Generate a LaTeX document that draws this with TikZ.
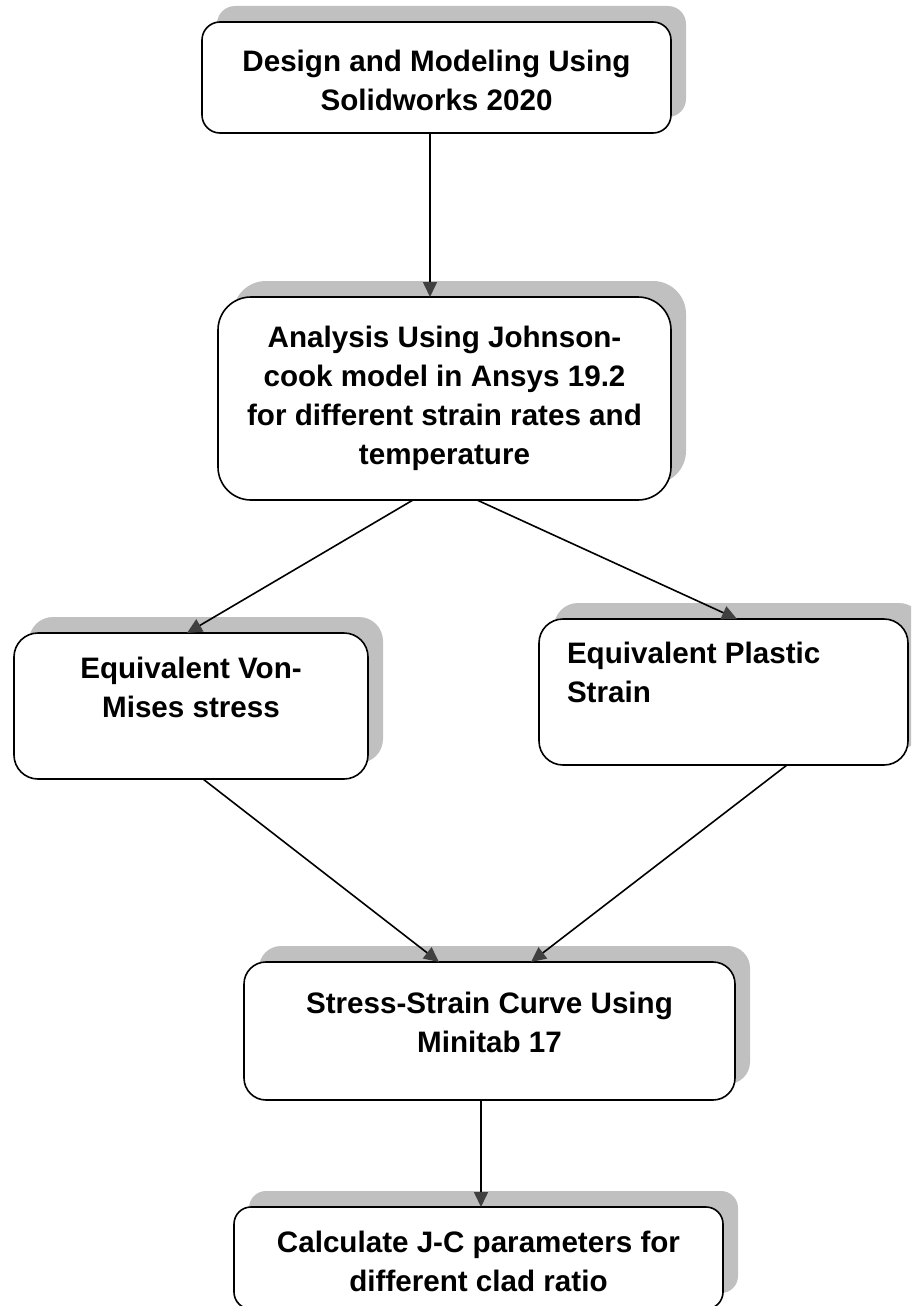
\documentclass[tikz,border=0pt]{standalone}
\usepackage{fontspec}
\setmainfont{Liberation Sans}
\usetikzlibrary{shadows,arrows.meta,calc}
\definecolor{shadowgray}{HTML}{C0C0C0}
\definecolor{tipgray}{HTML}{404040}
\newcommand{\boxtext}[4]{\parbox[c][#2pt][t]{#1pt}{\centering\fontsize{29.6}{39}\selectfont\bfseries\vspace*{#3pt}\strut #4}}
\newcommand{\boxtextleft}[5]{\parbox[c][#2pt][t]{#1pt}{\raggedright\leftskip=#4pt\fontsize{29.6}{39}\selectfont\bfseries\vspace*{#3pt}\strut #5}}
\begin{document}
\begin{tikzpicture}[x=1pt,y=-1pt,
  box/.style={draw=black, line width=1.6pt, fill=white, inner sep=0pt, outer sep=0pt,
    general shadow={fill=shadowgray, draw=none, shadow xshift=15pt, shadow yshift=16pt}},
  conn/.style={line width=1.6pt, draw=black, -{Triangle[length=15pt,width=14pt,color=tipgray]}}]
\useasboundingbox (0,0) rectangle (911,1306);
\clip (0,0) rectangle (911,1306);

% strut height = 0.7*39 = 27.3
\node[box, rounded corners=18pt] (b1) at (436.5,77.5)
  {\boxtext{469}{111}{22.2}{Design and Modeling Using\\Solidworks 2020}};
\node[box, rounded corners=33pt] (b2) at (444.5,398.5)
  {\boxtext{453}{203}{22.7}{Analysis Using Johnson-\\cook model in Ansys 19.2\\for different strain rates and\\temperature}};
\node[box, rounded corners=24pt] (b3) at (191,706)
  {\boxtext{354}{146}{18.2}{Equivalent Von-\\Mises stress}};
\node[box, rounded corners=24pt] (b4) at (723.5,692)
  {\boxtextleft{369}{146}{17.2}{28}{Equivalent Plastic\\Strain}};
\node[box, rounded corners=22pt] (b5) at (489.5,1031)
  {\boxtext{491}{138}{24.2}{Stress-Strain Curve Using\\Minitab 17}};
\node[box, rounded corners=17pt] (b6) at (478.5,1258)
  {\boxtext{489}{102}{18.2}{Calculate J-C parameters for\\different clad ratio}};

\draw[conn] ($(b1.south)+(-6.5,0)$) -- ($(b2.north)+(-14.5,0)$);
\draw[conn] ($(b2.south)+(-31.5,0)$) -- ($(b3.north)+(-4,0)$);
\draw[conn] ($(b2.south)+(32.5,0)$) -- ($(b4.north)+(13.5,0)$);
\draw[conn] ($(b3.south)+(12,0)$) -- ($(b5.north)+(-50.5,0)$);
\draw[conn] ($(b4.south)+(63.5,0)$) -- ($(b5.north)+(41.5,0)$);
\draw[conn] ($(b5.south)+(-8.5,0)$) -- ($(b6.north)+(2.5,0)$);
\end{tikzpicture}
\end{document}
